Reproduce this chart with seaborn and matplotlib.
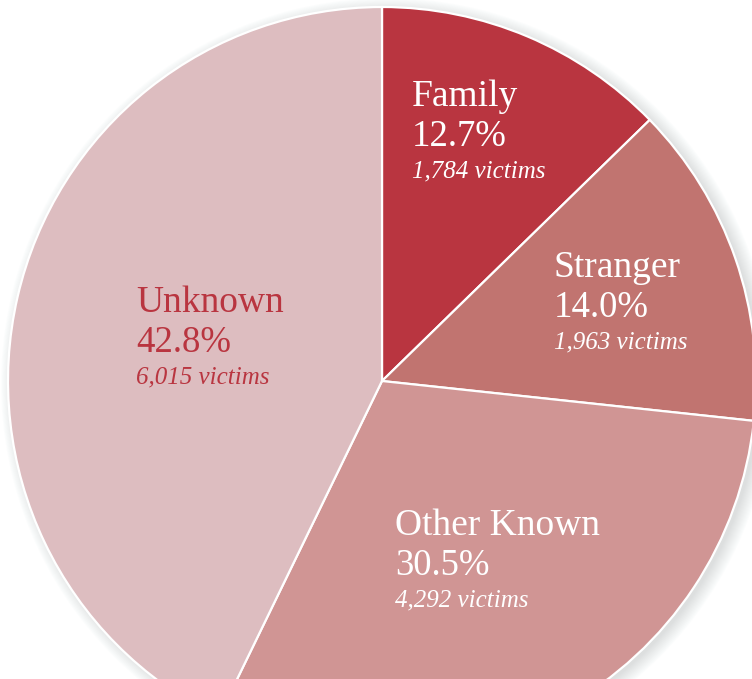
import matplotlib
matplotlib.use("Agg")
import matplotlib.pyplot as plt
from matplotlib.patches import Circle
import seaborn as sns

# ---- data ----
categories = ["Family", "Stranger", "Other Known", "Unknown"]
percents = [12.7, 14.0, 30.5, 42.8]
victims = [1784, 1963, 4292, 6015]

# ---- style ----
sns.set_theme(style="white")
plt.rcParams["font.family"] = ["Liberation Serif", "DejaVu Serif"]
colors = ["#B93540", "#C17470", "#D09594", "#DDBDC0"]
text_colors = ["white", "white", "white", "#B93540"]

W, H = 752, 679
fig = plt.figure(figsize=(W / 100, H / 100), dpi=100)
ax = fig.add_axes([0, 0, 1, 1])

cx, cy_px, R = 382, 381, 374
cy = H - cy_px

# soft shadow
for k in range(16):
    ax.add_patch(Circle((cx + 5, cy - 3), R + 12 - k * 0.9, color="#7a8490",
                        alpha=0.014, lw=0, zorder=0))

ax.pie(percents, colors=colors, startangle=90, counterclock=False,
       center=(cx, cy), radius=R,
       wedgeprops=dict(edgecolor="white", linewidth=1.6))

# label anchor positions (pixel coords: left x, baseline of first line)
label_pos = [(412, 106), (554, 277), (395, 535), (136, 312)]
for cat, pct, v, (lx, ly), tc in zip(categories, percents, victims, label_pos, text_colors):
    ax.text(lx, H - ly, cat, fontsize=27, color=tc, ha="left", va="baseline")
    ax.text(lx, H - (ly + 40), f"{pct:.1f}%", fontsize=26.5, color=tc, ha="left", va="baseline")
    ax.text(lx, H - (ly + 71), f"{v:,} victims", fontsize=18, color=tc,
            style="italic", ha="left", va="baseline")

ax.set_xlim(0, W)
ax.set_ylim(0, H)
ax.set_aspect("auto")
ax.axis("off")
fig.savefig("out.png", dpi=100, facecolor="white")
